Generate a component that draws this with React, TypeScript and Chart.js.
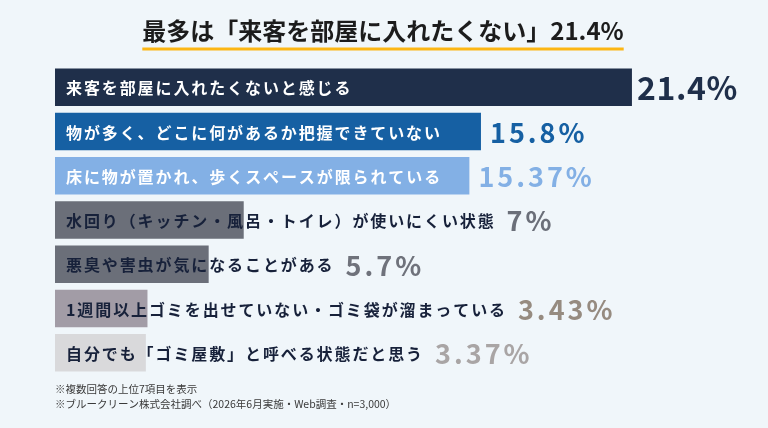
import React, { useEffect, useRef } from "react";
import { Chart, registerables } from "chart.js";

Chart.register(...registerables);

const titleText = "最多は「来客を部屋に入れたくない」21.4%";
const categories = [
  "来客を部屋に入れたくないと感じる",
  "物が多く、どこに何があるか把握できていない",
  "床に物が置かれ、歩くスペースが限られている",
  "水回り（キッチン・風呂・トイレ）が使いにくい状態",
  "悪臭や害虫が気になることがある",
  "1週間以上ゴミを出せていない・ゴミ袋が溜まっている",
  "自分でも「ゴミ屋敷」と呼べる状態だと思う",
];
const values = [21.4, 15.8, 15.37, 7, 5.7, 3.43, 3.37];
const valueLabels = ["21.4%", "15.8%", "15.37%", "7%", "5.7%", "3.43%", "3.37%"];
const barColors = ["#1f2f4a", "#1660a3", "#83b0e5", "#6b6f79", "#6b6f79", "#a29ca6", "#d9d9db"];
const valueColors = ["#1f2f4a", "#1660a3", "#83b0e5", "#6b6f79", "#6f727b", "#968b80", "#a9a5a5"];
const labelColors = ["#ffffff", "#ffffff", "#ffffff", "#17213a", "#17213a", "#17213a", "#17213a"];
const footnotes = [
  "※複数回答の上位7項目を表示",
  "※ブルークリーン株式会社調べ（2026年6月実施・Web調査・n=3,000）",
];

const FONT = '"Noto Sans CJK JP", "Noto Sans", sans-serif';

const decorPlugin = {
  id: "decor",
  afterDatasetsDraw(chart: any) {
    const ctx = chart.ctx as CanvasRenderingContext2D;
    const meta = chart.getDatasetMeta(0);
    ctx.save();
    meta.data.forEach((bar: any, i: number) => {
      const y = bar.y;
      const base = bar.base;
      const end = bar.x;
      // category label
      ctx.font = `bold 16px ${FONT}`;
      (ctx as any).letterSpacing = "1.9px";
      ctx.fillStyle = labelColors[i];
      ctx.textAlign = "left";
      ctx.textBaseline = "middle";
      const lx = base + 11;
      ctx.fillText(categories[i], lx, y + 1);
      const tw = ctx.measureText(categories[i]).width;
      // value label
      const big = i === 0;
      ctx.font = `bold ${big ? 32 : 27}px ${FONT}`;
      (ctx as any).letterSpacing = big ? "0.6px" : "3px";
      ctx.fillStyle = valueColors[i];
      const vx = Math.max(end + (big ? 5 : 9), lx + tw + 11);
      ctx.fillText(valueLabels[i], vx, y + 1);
    });
    // title
    (ctx as any).letterSpacing = "0px";
    ctx.font = `bold 24px ${FONT}`;
    ctx.fillStyle = "#1c1c1c";
    ctx.textAlign = "center";
    ctx.textBaseline = "middle";
    ctx.fillText(titleText, 383, 31);
    const w = ctx.measureText(titleText).width;
    ctx.fillStyle = "#fcb614";
    ctx.fillRect(383 - w / 2, 47.5, w, 3);
    // footnotes
    ctx.font = `10.5px ${FONT}`;
    ctx.fillStyle = "#3a3a3a";
    ctx.textAlign = "left";
    ctx.fillText(footnotes[0], 55, 389);
    ctx.fillText(footnotes[1], 55, 404);
    ctx.restore();
  },
};

export default function App() {
  const ref = useRef<HTMLCanvasElement>(null);
  useEffect(() => {
    document.body.style.margin = "0";
    const chart = new Chart(ref.current!, {
      type: "bar",
      data: {
        labels: categories,
        datasets: [
          {
            data: values,
            backgroundColor: barColors,
            borderWidth: 0,
            barPercentage: 0.846,
            categoryPercentage: 1,
          },
        ],
      },
      options: {
        indexAxis: "y",
        responsive: false,
        animation: false,
        devicePixelRatio: 1,
        layout: { padding: { left: 55, right: 39, top: 65, bottom: 53 } },
        scales: {
          x: { min: 0, max: 25, display: false },
          y: { display: false },
        },
        plugins: {
          legend: { display: false },
          tooltip: { enabled: false },
          title: { display: false },
        },
      },
      plugins: [decorPlugin],
    });
    return () => chart.destroy();
  }, []);
  return (
    <div style={{ position: "absolute", left: 0, top: 0, width: 768, height: 428, background: "#f0f6fa" }}>
      <canvas ref={ref} width={768} height={428} style={{ width: 768, height: 428, display: "block" }} />
    </div>
  );
}
